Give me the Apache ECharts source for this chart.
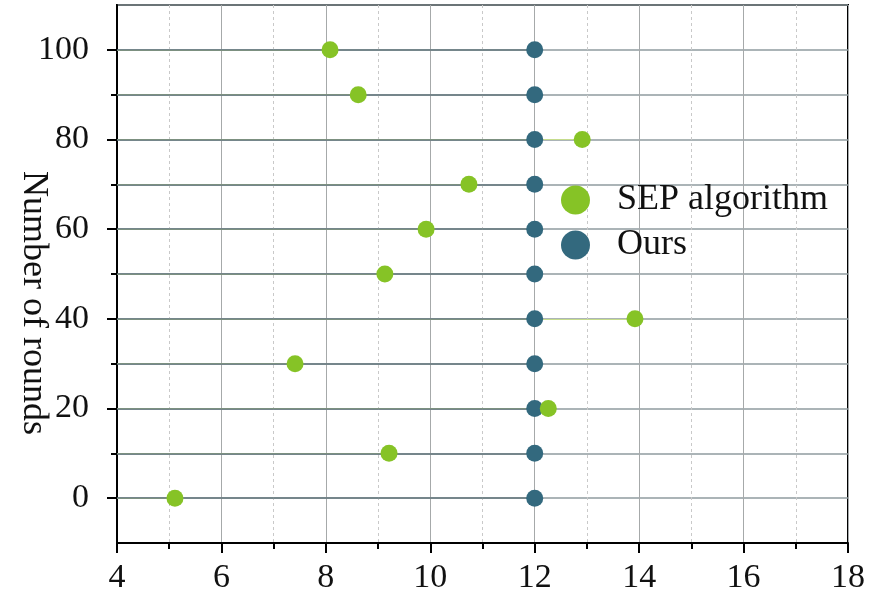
<!DOCTYPE html>
<html>
<head>
<meta charset="utf-8">
<script src="https://cdn.jsdelivr.net/npm/echarts@6/dist/echarts.min.js"></script>
<style>
  html, body { margin: 0; padding: 0; background: #fff; }
  #chart { width: 869px; height: 599px; }
</style>
</head>
<body>
<div id="chart"></div>
<script>
// rounds (y) and the x value of each method at that round
const rounds = [0, 10, 20, 30, 40, 50, 60, 70, 80, 90, 100]
const sepValues = [5.11, 9.21, 12.26, 7.41, 13.92, 9.13, 9.92, 10.74, 12.91, 8.62, 8.08]
const oursValues = [12, 12, 12, 12, 12, 12, 12, 12, 12, 12, 12]
const yLabelValues = [0, 20, 40, 60, 80, 100]
const yMinorTickValues = [10, 30, 50, 70, 90]

const GREEN = '#86c326'
const TEAL = '#33697e'
const FONT = '"Liberation Serif", "DejaVu Serif", serif'

const chart = echarts.init(document.getElementById('chart'))

const dropLines = (values, xStart) =>
  values.map((x, i) => ({ coords: [[xStart, rounds[i]], [x, rounds[i]]] }))

const hiddenY = (extra) => Object.assign({
  type: 'value',
  min: -10,
  max: 110,
  position: 'left',
  axisLine: { show: false },
  splitLine: { show: false },
  axisLabel: { show: false },
  axisTick: { show: false },
}, extra)

chart.setOption({
  animation: false,
  grid: {
    left: 117,
    right: 21,
    top: 5,
    bottom: 56,
    outerBoundsMode: 'none',
    containLabel: false,
    show: true,
    borderColor: '#000',
    borderWidth: 2,
    backgroundColor: 'transparent',
  },
  legend: {
    orient: 'vertical',
    left: 556,
    top: 177,
    itemWidth: 29,
    itemHeight: 29,
    itemGap: 9,
    icon: 'circle',
    textStyle: { fontFamily: FONT, fontSize: 36, color: '#111', padding: [0, 0, 0, 22] },
    data: ['SEP algorithm', 'Ours'],
  },
  xAxis: {
    type: 'value',
    min: 4,
    max: 18,
    interval: 2,
    axisLine: { show: true, onZero: false, lineStyle: { color: '#000', width: 2 } },
    axisTick: { show: true, inside: false, length: 10, lineStyle: { color: '#000', width: 2 } },
    minorTick: { show: true, splitNumber: 2, length: 6, lineStyle: { color: '#000', width: 2 } },
    axisLabel: { fontFamily: FONT, fontSize: 34, color: '#111', margin: 18 },
    splitLine: { show: true, lineStyle: { color: '#a6a9aa', width: 1 } },
    minorSplitLine: { show: true, lineStyle: { color: '#c9c9c9', width: 1, type: [3, 3] } },
  },
  yAxis: [
    hiddenY({
      interval: 10,
      axisLine: { show: true, lineStyle: { color: '#000', width: 2 } },
      splitLine: { show: true, lineStyle: { color: '#8f9b9f', width: 1.5 } },
      name: 'Number of rounds',
      nameLocation: 'middle',
      nameRotate: -90,
      nameGap: 66,
      nameTextStyle: { fontFamily: FONT, fontSize: 36, color: '#111', padding: [0, 0, 0, 58] },
    }),
    hiddenY({
      axisLabel: { show: true, customValues: yLabelValues, fontFamily: FONT, fontSize: 34, color: '#111', margin: 28 },
      axisTick: { show: true, customValues: yLabelValues, length: 10, lineStyle: { color: '#000', width: 2 } },
    }),
    hiddenY({
      axisTick: { show: true, customValues: yMinorTickValues, length: 6, lineStyle: { color: '#000', width: 2 } },
    }),
  ],
  series: [
    {
      name: 'sep-drop',
      type: 'lines',
      coordinateSystem: 'cartesian2d',
      silent: true,
      z: 1,
      lineStyle: { color: '#c5dc8c', width: 1.2, opacity: 1 },
      data: dropLines(sepValues, 4),
    },
    {
      name: 'ours-drop',
      type: 'lines',
      coordinateSystem: 'cartesian2d',
      silent: true,
      z: 2,
      lineStyle: { color: '#63777d', width: 1.5, opacity: 1 },
      data: dropLines(oursValues, 4),
    },
    {
      name: 'SEP algorithm',
      type: 'scatter',
      symbolSize: 17,
      z: 4,
      itemStyle: { color: GREEN, opacity: 1 },
      data: sepValues.map((x, i) => [x, rounds[i]]),
    },
    {
      name: 'Ours',
      type: 'scatter',
      symbolSize: 17,
      z: 3,
      itemStyle: { color: TEAL, opacity: 1 },
      data: oursValues.map((x, i) => [x, rounds[i]]),
    },
  ],
})
</script>
</body>
</html>
